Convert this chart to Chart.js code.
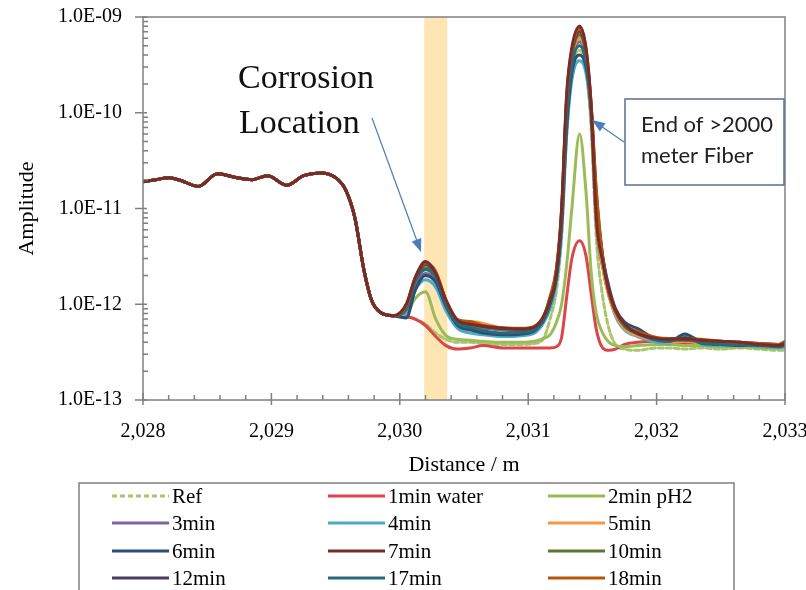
<!DOCTYPE html>
<html>
<head>
<meta charset="utf-8">
<script src="https://cdn.jsdelivr.net/npm/chart.js@4.4.1/dist/chart.umd.min.js"></script>
<style>
  body { margin: 0; background: #fff; }
  canvas { display: block; }
</style>
</head>
<body>
<canvas id="ampChart" width="806" height="590"></canvas>
<script>
// distance along the fiber (m)
const distance = [2028.00, 2028.10, 2028.20, 2028.30, 2028.43, 2028.58, 2028.73, 2028.85, 2028.97, 2029.12,
  2029.25, 2029.38, 2029.50, 2029.58, 2029.65, 2029.72, 2029.78, 2029.85, 2029.95,
  2030.05, 2030.12, 2030.20, 2030.28, 2030.36, 2030.45, 2030.55, 2030.65, 2030.80, 2030.95,
  2031.05, 2031.12, 2031.17, 2031.22, 2031.26, 2031.30, 2031.34, 2031.40, 2031.45, 2031.49,
  2031.53, 2031.58, 2031.63, 2031.68, 2031.75, 2031.85,
  2032.00, 2032.10, 2032.22, 2032.35, 2032.50, 2032.65, 2032.80, 2032.95, 2033.00];

// all traces lie on top of each other up to ~2030
const front = [1.9e-11, 2.0e-11, 2.1e-11, 1.95e-11, 1.7e-11, 2.3e-11, 2.1e-11, 2.0e-11, 2.2e-11, 1.75e-11,
  2.2e-11, 2.35e-11, 2.1e-11, 1.55e-11, 8.0e-12, 2.3e-12, 1.1e-12, 8.2e-13, 7.6e-13];

const refAmp = front.concat([7.4e-13, 7.0e-13, 6.2e-13, 5.0e-13, 4.3e-13, 4.0e-13, 4.0e-13, 3.9e-13, 3.8e-13, 3.8e-13,
  3.9e-13, 4.4e-13, 7.0e-13, 1.4e-12, 5.0e-12, 6.0e-11, 2.6e-10, 4.5e-10, 2.8e-10, 7.0e-11,
  5.0e-12, 1.2e-12, 5.5e-13, 3.8e-13, 3.4e-13, 3.3e-13,
  3.5e-13, 3.5e-13, 3.4e-13, 3.5e-13, 3.4e-13, 3.5e-13, 3.4e-13, 3.3e-13, 3.3e-13]);
const water1 = front.concat([7.4e-13, 7.0e-13, 6.0e-13, 4.6e-13, 3.7e-13, 3.4e-13, 3.5e-13, 3.7e-13, 3.5e-13, 3.5e-13,
  3.5e-13, 3.5e-13, 3.5e-13, 3.6e-13, 4.5e-13, 1.2e-12, 3.0e-12, 4.6e-12, 3.2e-12, 1.3e-12,
  5.5e-13, 3.5e-13, 3.3e-13, 3.4e-13, 3.8e-13, 4.0e-13,
  4.1e-13, 4.0e-13, 3.9e-13, 3.8e-13, 3.7e-13, 3.6e-13, 3.7e-13, 3.6e-13, 3.7e-13]);
const ph2min2 = front.concat([8.0e-13, 1.15e-12, 1.35e-12, 7.0e-13, 4.7e-13, 4.3e-13, 4.2e-13, 4.1e-13, 4.0e-13, 4.0e-13,
  4.1e-13, 4.4e-13, 4.8e-13, 6.5e-13, 1.0e-12, 2.6e-12, 1.0e-11, 6.0e-11, 1.5e-11, 2.2e-12,
  8.0e-13, 5.0e-13, 4.0e-13, 3.7e-13, 3.6e-13, 3.7e-13,
  3.8e-13, 3.8e-13, 3.7e-13, 3.7e-13, 3.6e-13, 3.6e-13, 3.5e-13, 3.5e-13, 3.6e-13]);
const min3 = front.concat([9.0e-13, 1.6e-12, 2.1e-12, 1.8e-12, 1.0e-12, 6.6e-13, 6.0e-13, 5.6e-13, 5.4e-13, 5.2e-13,
  5.5e-13, 7.0e-13, 1.0e-12, 1.9e-12, 7.0e-12, 9.0e-11, 3.2e-10, 5.5e-10, 3.3e-10, 9.0e-11,
  7.0e-12, 2.4e-12, 1.2e-12, 7.8e-13, 5.8e-13, 4.8e-13,
  4.2e-13, 4.1e-13, 4.2e-13, 4.0e-13, 3.9e-13, 3.8e-13, 3.7e-13, 3.6e-13, 3.8e-13]);
const min4 = front.concat([8.0e-13, 1.4e-12, 1.8e-12, 1.5e-12, 8.5e-13, 5.6e-13, 5.0e-13, 4.8e-13, 4.6e-13, 4.7e-13,
  5.0e-13, 6.4e-13, 9.0e-13, 1.7e-12, 5.5e-12, 6.0e-11, 2.2e-10, 3.5e-10, 2.6e-10, 9.0e-11,
  9.0e-12, 2.8e-12, 1.3e-12, 7.5e-13, 5.4e-13, 4.6e-13,
  4.0e-13, 3.9e-13, 4.6e-13, 3.8e-13, 3.7e-13, 3.8e-13, 3.6e-13, 3.5e-13, 3.6e-13]);
const min5 = front.concat([9.0e-13, 1.7e-12, 2.3e-12, 1.9e-12, 1.0e-12, 6.6e-13, 6.6e-13, 6.3e-13, 5.6e-13, 5.4e-13,
  5.7e-13, 7.2e-13, 1.1e-12, 2.1e-12, 8.0e-12, 1.1e-10, 3.6e-10, 6.0e-10, 3.7e-10, 1.0e-10,
  7.5e-12, 2.5e-12, 1.2e-12, 7.8e-13, 5.6e-13, 4.7e-13,
  4.2e-13, 4.0e-13, 4.1e-13, 3.9e-13, 3.8e-13, 3.9e-13, 3.7e-13, 3.6e-13, 3.7e-13]);
const min6 = front.concat([7.2e-13, 1.4e-12, 2.0e-12, 1.7e-12, 9.5e-13, 6.0e-13, 5.4e-13, 5.0e-13, 4.8e-13, 4.9e-13,
  5.3e-13, 6.8e-13, 1.0e-12, 1.9e-12, 6.5e-12, 7.0e-11, 2.6e-10, 4.0e-10, 3.0e-10, 1.1e-10,
  1.2e-11, 3.2e-12, 1.5e-12, 9.0e-13, 6.5e-13, 5.6e-13,
  4.3e-13, 4.1e-13, 4.9e-13, 4.0e-13, 3.8e-13, 3.7e-13, 3.8e-13, 3.6e-13, 3.7e-13]);
const min7 = front.concat([1.0e-12, 1.9e-12, 2.8e-12, 2.1e-12, 1.1e-12, 6.8e-13, 6.2e-13, 5.9e-13, 5.6e-13, 5.5e-13,
  5.8e-13, 7.5e-13, 1.1e-12, 2.1e-12, 1.0e-11, 1.6e-10, 4.8e-10, 8.0e-10, 4.8e-10, 1.2e-10,
  8.0e-12, 2.8e-12, 1.4e-12, 8.7e-13, 6.2e-13, 5.0e-13,
  4.4e-13, 4.3e-13, 4.4e-13, 4.2e-13, 4.1e-13, 4.0e-13, 3.8e-13, 3.7e-13, 3.9e-13]);
const min10 = front.concat([9.2e-13, 1.8e-12, 2.4e-12, 2.0e-12, 1.05e-12, 6.6e-13, 6.1e-13, 5.8e-13, 5.5e-13, 5.4e-13,
  5.7e-13, 7.3e-13, 1.1e-12, 2.2e-12, 8.5e-12, 1.2e-10, 3.9e-10, 6.5e-10, 4.0e-10, 1.1e-10,
  1.2e-11, 3.0e-12, 1.3e-12, 8.3e-13, 5.9e-13, 4.9e-13,
  4.3e-13, 4.2e-13, 4.2e-13, 4.1e-13, 4.0e-13, 3.9e-13, 3.8e-13, 3.7e-13, 3.8e-13]);
const min12 = front.concat([9.4e-13, 1.85e-12, 2.6e-12, 2.1e-12, 1.1e-12, 6.8e-13, 6.2e-13, 5.9e-13, 5.6e-13, 5.5e-13,
  5.8e-13, 7.4e-13, 1.15e-12, 2.3e-12, 9.0e-12, 1.4e-10, 4.3e-10, 7.0e-10, 4.3e-10, 1.2e-10,
  1.5e-11, 3.1e-12, 1.35e-12, 8.5e-13, 6.1e-13, 5.0e-13,
  4.4e-13, 4.3e-13, 4.3e-13, 4.2e-13, 4.1e-13, 4.0e-13, 3.9e-13, 3.8e-13, 4.0e-13]);
const min17 = front.concat([8.8e-13, 1.7e-12, 2.3e-12, 1.9e-12, 1.0e-12, 6.3e-13, 5.7e-13, 5.3e-13, 5.0e-13, 5.1e-13,
  5.4e-13, 7.0e-13, 1.05e-12, 2.0e-12, 7.5e-12, 9.0e-11, 3.1e-10, 5.0e-10, 3.4e-10, 1.1e-10,
  1.1e-11, 3.0e-12, 1.4e-12, 8.6e-13, 6.0e-13, 5.0e-13,
  4.2e-13, 4.1e-13, 4.5e-13, 3.9e-13, 3.8e-13, 3.8e-13, 3.7e-13, 3.6e-13, 3.8e-13]);
const min18 = front.concat([9.5e-13, 1.9e-12, 2.7e-12, 2.2e-12, 1.1e-12, 6.9e-13, 6.6e-13, 6.0e-13, 5.7e-13, 5.6e-13,
  5.9e-13, 7.5e-13, 1.2e-12, 2.4e-12, 9.5e-12, 1.5e-10, 4.5e-10, 7.5e-10, 4.6e-10, 1.25e-10,
  1.6e-11, 3.1e-12, 1.3e-12, 8.4e-13, 6.1e-13, 5.2e-13,
  4.5e-13, 4.4e-13, 4.4e-13, 4.3e-13, 4.1e-13, 4.0e-13, 3.9e-13, 3.8e-13, 4.1e-13]);

const seriesNames = ['Ref', '1min water', '2min pH2', '3min', '4min', '5min',
  '6min', '7min', '10min', '12min', '17min', '18min'];
const seriesValues = [refAmp, water1, ph2min2, min3, min4, min5, min6, min7, min10, min12, min17, min18];
const seriesColors = ['#A9C66A', '#D9474A', '#9BBB59', '#8064A2', '#4BACC6', '#F79646',
  '#2C4D75', '#772C2A', '#5F7530', '#4D3B62', '#276A7C', '#B65708'];
// drawing order, lowest ends up on top
const drawOrder = [12, 11, 10, 9, 8, 7, 6, 0, 5, 4, 3, 2];

const xMin = 2028, xMax = 2033;
const yMin = 1e-13, yMax = 1e-9;
const corrosionBand = [2030.19, 2030.37];

const serif = "'Liberation Serif', 'Times New Roman', serif";

function isDecade(v) {
  let l = Math.log10(v);
  return Math.abs(l - Math.round(l)) < 1e-6;
}

function expLabel(v) {
  let e = Math.round(Math.log10(v));
  return '1.0E' + (e < 0 ? '-' : '+') + String(Math.abs(e)).padStart(2, '0');
}

function thousands(v) {
  return String(v).replace(/(\d)(\d{3})$/, '$1,$2');
}

function arrow(ctx, x0, y0, x1, y1) {
  let ang = Math.atan2(y1 - y0, x1 - x0);
  let c = Math.cos(ang), s = Math.sin(ang);
  ctx.beginPath();
  ctx.moveTo(x0, y0);
  ctx.lineTo(x1 - 9 * c, y1 - 9 * s);
  ctx.stroke();
  ctx.beginPath();
  ctx.moveTo(x1, y1);
  ctx.lineTo(x1 - 13 * c + 5 * s, y1 - 13 * s - 5 * c);
  ctx.lineTo(x1 - 13 * c - 5 * s, y1 - 13 * s + 5 * c);
  ctx.closePath();
  ctx.fill();
}

const decor = {
  id: 'decor',
  beforeDatasetsDraw(chart) {
    const ctx = chart.ctx, a = chart.chartArea, x = chart.scales.x;
    let x0 = x.getPixelForValue(corrosionBand[0]);
    let x1 = x.getPixelForValue(corrosionBand[1]);
    ctx.save();
    ctx.fillStyle = 'rgba(251, 213, 130, 0.6)';
    ctx.fillRect(x0, a.top, x1 - x0, a.bottom - a.top);
    ctx.restore();
  },
  afterDraw(chart) {
    const ctx = chart.ctx, a = chart.chartArea;
    const x = chart.scales.x, y = chart.scales.y;
    ctx.save();

    // plot frame and tick marks
    ctx.strokeStyle = '#808080';
    ctx.lineWidth = 1.5;
    ctx.strokeRect(a.left, a.top, a.right - a.left, a.bottom - a.top);
    ctx.beginPath();
    for (let e = -13; e <= -9; e++) {
      for (let m = 1; m <= 9; m++) {
        let v = m * Math.pow(10, e);
        if (v > yMax * 1.0001) break;
        let py = y.getPixelForValue(v);
        if (m == 1) {
          ctx.moveTo(a.left - 8, py);
          ctx.lineTo(a.left + 4, py);
        } else {
          ctx.moveTo(a.left, py);
          ctx.lineTo(a.left + 5, py);
        }
      }
    }
    for (let i = 0; i <= 25; i++) {
      let px = x.getPixelForValue(xMin + i * 0.2);
      if (i % 5 == 0) {
        ctx.moveTo(px, a.bottom - 7);
        ctx.lineTo(px, a.bottom + 5);
      } else {
        ctx.moveTo(px, a.bottom - 5);
        ctx.lineTo(px, a.bottom);
      }
    }
    ctx.stroke();

    // corrosion note
    ctx.fillStyle = '#111';
    ctx.font = '34px ' + serif;
    ctx.textBaseline = 'alphabetic';
    ctx.textAlign = 'left';
    ctx.fillText('Corrosion', 238, 88);
    ctx.fillText('Location', 239, 133);
    ctx.strokeStyle = '#4A7EBB';
    ctx.fillStyle = '#4A7EBB';
    ctx.lineWidth = 1.2;
    arrow(ctx, 372, 118, 421, 252);

    // fiber end note
    ctx.fillStyle = '#fff';
    ctx.fillRect(625, 99, 159, 86);
    ctx.strokeStyle = '#5A6F8C';
    ctx.lineWidth = 1.5;
    ctx.strokeRect(625, 99, 159, 86);
    ctx.fillStyle = '#222';
    ctx.font = "22px Lato, 'Open Sans', sans-serif";
    ctx.fillText('End of >2000', 641, 132);
    ctx.fillText('meter Fiber', 641, 163);
    ctx.strokeStyle = '#4A7EBB';
    ctx.fillStyle = '#4A7EBB';
    ctx.lineWidth = 1.2;
    arrow(ctx, 624, 142, 592, 120);

    // legend
    ctx.strokeStyle = '#808080';
    ctx.lineWidth = 1.5;
    ctx.strokeRect(79, 483, 655, 130);
    const cols = [112, 328, 548];
    const rows = [496, 523, 551, 578];
    ctx.font = '21px ' + serif;
    ctx.textBaseline = 'middle';
    chart.data.datasets.forEach((ds, i) => {
      let cx = cols[i % 3], cy = rows[Math.floor(i / 3)];
      ctx.strokeStyle = ds.borderColor;
      ctx.lineWidth = 3;
      ctx.setLineDash(ds.borderDash || []);
      ctx.beginPath();
      ctx.moveTo(cx, cy);
      ctx.lineTo(cx + 57, cy);
      ctx.stroke();
      ctx.setLineDash([]);
      ctx.fillStyle = '#000';
      ctx.fillText(ds.label, cx + 60, cy + 1);
    });
    ctx.restore();
  }
};

let datasets = seriesNames.map((name, i) => ({
  label: name,
  data: distance.map((d, j) => ({ x: d, y: seriesValues[i][j] })),
  borderColor: seriesColors[i],
  borderDash: i == 0 ? [5, 3] : undefined,
  order: drawOrder[i]
}));

Chart.defaults.font.family = serif;
Chart.defaults.color = '#000';

new Chart(document.getElementById('ampChart'), {
  type: 'line',
  data: { datasets: datasets },
  options: {
    responsive: false,
    animation: false,
    devicePixelRatio: 1,
    layout: { padding: { left: 0, top: 17, right: 21, bottom: 110 } },
    elements: {
      point: { radius: 0 },
      line: { borderWidth: 3, cubicInterpolationMode: 'monotone', borderJoinStyle: 'round', borderCapStyle: 'round' }
    },
    plugins: { legend: { display: false }, tooltip: { enabled: false } },
    scales: {
      x: {
        type: 'linear',
        min: xMin,
        max: xMax,
        grid: { display: false, drawTicks: false },
        border: { display: false },
        ticks: {
          stepSize: 1,
          autoSkip: false,
          maxRotation: 0,
          padding: 20,
          font: { size: 20 },
          callback: v => Number.isInteger(v) ? thousands(v) : ''
        },
        title: { display: true, text: 'Distance / m', font: { size: 22 }, padding: { top: 0, bottom: 2 } },
        afterFit: s => { s.height = 80; s.paddingLeft = 0; s.paddingRight = 0; }
      },
      y: {
        type: 'logarithmic',
        min: yMin,
        max: yMax,
        grid: { display: false, drawTicks: false },
        border: { display: false },
        ticks: {
          autoSkip: false,
          padding: 21,
          font: { size: 20 },
          callback: v => isDecade(v) ? expLabel(v) : ''
        },
        title: { display: true, text: 'Amplitude', font: { size: 22 }, padding: { top: 14, bottom: 0 } },
        afterFit: s => { s.width = 143; s.paddingTop = 0; s.paddingBottom = 0; }
      }
    }
  },
  plugins: [decor]
});
</script>
</body>
</html>
